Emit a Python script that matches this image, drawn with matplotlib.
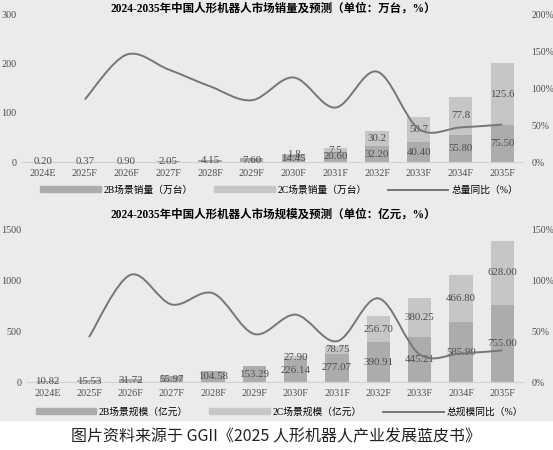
import matplotlib.pyplot as plt
from matplotlib.path import Path
from matplotlib.patches import PathPatch, Rectangle
from matplotlib.lines import Line2D
from matplotlib.ticker import FuncFormatter

plt.rcParams['font.family'] = ['Liberation Serif', 'Noto Sans CJK SC', 'DejaVu Sans']

years = ['2024E', '2025F', '2026F', '2027F', '2028F', '2029F',
         '2030F', '2031F', '2032F', '2033F', '2034F', '2035F']

# 销量（万台）
sales_2b = [0.20, 0.37, 0.90, 2.05, 4.15, 7.60, 14.45, 20.60, 32.20, 40.40, 55.80, 75.50]
sales_2c = [0, 0, 0, 0, 0, 0, 1.8, 7.5, 30.2, 50.7, 77.8, 125.6]
sales_yoy = [None, 85, 146, 126, 103, 84, 115, 74, 123, 45, 47, 51]  # %

# 规模（亿元）
size_2b = [10.82, 15.53, 31.72, 55.97, 104.58, 153.29, 226.14, 277.07, 390.91, 445.21, 585.90, 755.00]
size_2c = [0, 0, 0, 0, 0, 0, 27.90, 78.75, 256.70, 380.25, 466.80, 628.00]
size_yoy = [None, 44, 105, 76, 87, 47, 66, 40, 82, 27, 28, 31]  # %

c_bg = '#ebebeb'
c_2b = '#acacac'
c_2c = '#c6c6c6'
c_line = '#767676'
c_txt = '#4d4d4d'


def smooth_path(xs, ys):
    # excel 风格平滑线: catmull-rom -> bezier
    pts = list(zip(xs, ys))
    verts = [pts[0]]
    codes = [Path.MOVETO]
    n = len(pts)
    for i in range(n - 1):
        p0 = pts[i - 1] if i > 0 else pts[i]
        p1 = pts[i]
        p2 = pts[i + 1]
        p3 = pts[i + 2] if i + 2 < n else pts[i + 1]
        c1 = (p1[0] + (p2[0] - p0[0]) / 6, p1[1] + (p2[1] - p0[1]) / 6)
        c2 = (p2[0] - (p3[0] - p1[0]) / 6, p2[1] - (p3[1] - p1[1]) / 6)
        verts += [c1, c2, p2]
        codes += [Path.CURVE4] * 3
    return Path(verts, codes)


def panel(rect, b, c, yoy, ymax, yticks, rmax, rticks, fmt_b, fmt_c, title, title_y, labels, leg_y):
    ax = fig.add_axes(rect)
    ax.set_facecolor('none')
    x = range(len(years))
    ax.bar(x, b, width=0.56, color=c_2b, zorder=2)
    ax.bar(x, c, width=0.56, bottom=b, color=c_2c, zorder=2)
    for i in x:
        ax.text(i, b[i] / 2, fmt_b.format(b[i]), ha='center', va='center',
                fontsize=7.8, color=c_txt, zorder=5)
        if c[i] > 0:
            ax.text(i, b[i] + c[i] / 2, fmt_c.format(c[i]), ha='center', va='center',
                    fontsize=7.8, color=c_txt, zorder=5)
    ax.set_xlim(-0.5, len(years) - 0.5)
    ax.set_ylim(0, ymax)
    ax.set_yticks(yticks)
    ax.set_xticks(list(x))
    ax.set_xticklabels(years)
    for s in ['top', 'right', 'left']:
        ax.spines[s].set_visible(False)
    ax.spines['bottom'].set_color('#d0d0d0')
    ax.tick_params(length=0, labelsize=7.3, colors=c_txt)
    ax.tick_params(axis='y', pad=4)
    ax.tick_params(axis='x', pad=5)

    ax2 = ax.twinx()
    ax2.set_ylim(0, rmax)
    ax2.set_yticks(rticks)
    ax2.yaxis.set_major_formatter(FuncFormatter(lambda v, p: f'{v:.0f}%'))
    for s in ax2.spines.values():
        s.set_visible(False)
    ax2.tick_params(length=0, labelsize=7, colors=c_txt, pad=6)
    xs = [i for i in x if yoy[i] is not None]
    ys = [yoy[i] for i in xs]
    ax2.add_patch(PathPatch(smooth_path(xs, ys), facecolor='none',
                            edgecolor=c_line, lw=1.4, zorder=3))

    fig.text(0.494, title_y, title, ha='center', va='center', fontsize=8.3,
             fontweight='bold', family=['Liberation Serif', 'Noto Sans CJK SC'])
    handles = [Rectangle((0, 0), 1, 1, color=c_2b), Rectangle((0, 0), 1, 1, color=c_2c),
               Line2D([], [], color=c_line, lw=1.4)]
    fig.legend(handles, labels, loc='center', bbox_to_anchor=(0.505, leg_y), ncol=3,
               frameon=False, handlelength=6.2, handleheight=0.55,
               columnspacing=2.2, handletextpad=0.3,
               prop={'family': ['Liberation Serif', 'Noto Sans CJK SC'], 'size': 7})


fig = plt.figure(figsize=(5.53, 4.5), dpi=100)
fig.patch.set_facecolor('white')
fig.patches.append(Rectangle((0, 30 / 450), 1, 1, transform=fig.transFigure,
                             color=c_bg, zorder=-10))

panel([0.040, 0.64, 0.906, 0.3267], sales_2b, sales_2c, sales_yoy, 300, [0, 100, 200, 300],
      200, [0, 50, 100, 150, 200], '{:.2f}', '{:.1f}',
      '2024-2035年中国人形机器人市场销量及预测（单位：万台，%）', 1 - 9 / 450,
      ['2B场景销量（万台）', '2C场景销量（万台）', '总量同比（%）'], 1 - 190 / 450)

panel([0.0488, 0.1511, 0.897, 0.34], size_2b, size_2c, size_yoy, 1500, [0, 500, 1000, 1500],
      150, [0, 50, 100, 150], '{:.2f}', '{:.2f}',
      '2024-2035年中国人形机器人市场规模及预测（单位：亿元，%）', 1 - 215 / 450,
      ['2B场景规模（亿元）', '2C场景规模（亿元）', '总规模同比（%）'], 1 - 412 / 450)

fig.text(0.4995, 1 - 437 / 450, '图片资料来源于 GGII《2025 人形机器人产业发展蓝皮书》',
         ha='center', va='center', fontsize=11.5, color='#222222',
         family=['Noto Sans CJK SC', 'DejaVu Sans'])

fig.savefig('out.png', dpi=100)
